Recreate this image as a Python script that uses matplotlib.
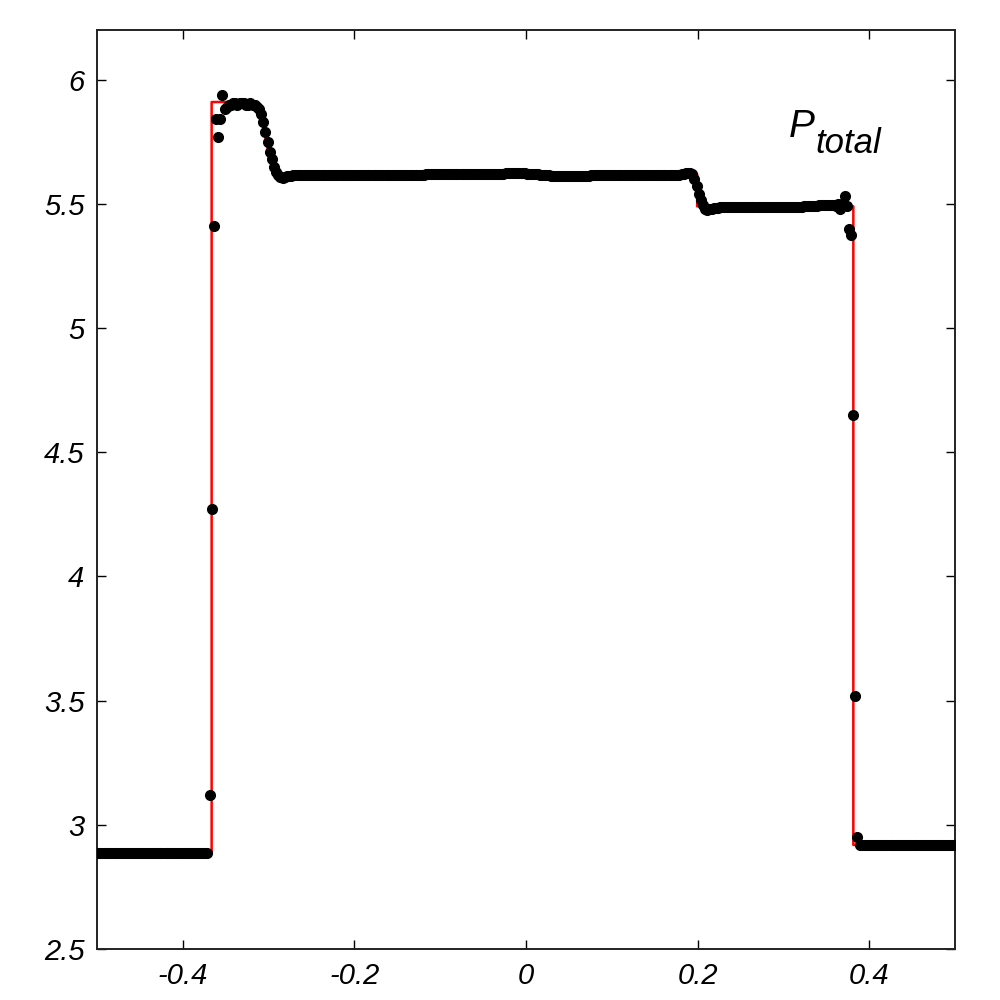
import numpy as np
import matplotlib
matplotlib.use("Agg")
import matplotlib.pyplot as plt
from matplotlib.ticker import FuncFormatter

plt.rcParams['font.family'] = ['Liberation Sans', 'DejaVu Sans']
plt.rcParams['font.style'] = 'italic'

# numerical solution, 400 cell centres on [-0.5, 0.5]
n_cells = 400
x_num = np.linspace(-0.49875, 0.49875, n_cells)

left_state = [
    2.887, 2.887, 2.887, 2.887, 2.887, 2.887, 2.887, 2.887, 2.887, 2.887, 2.887, 2.887, 2.887,
    2.887, 2.887, 2.887, 2.887, 2.887, 2.887, 2.887, 2.887, 2.887, 2.887, 2.887, 2.887, 2.887,
    2.887, 2.887, 2.887, 2.887, 2.887, 2.887, 2.887, 2.887, 2.887, 2.887, 2.887, 2.887, 2.887,
    2.887, 2.887, 2.887, 2.887, 2.887, 2.887, 2.887, 2.887, 2.887, 2.887, 2.887, 2.887, 2.887,
]
left_shock = [3.12, 4.27, 5.41, 5.84, 5.77, 5.84, 5.94, 5.88, 5.89, 5.90]
top_plateau = [5.90, 5.905, 5.905, 5.90, 5.905, 5.905, 5.905, 5.90, 5.90, 5.905, 5.90, 5.90]
rarefaction = [5.89, 5.88, 5.86, 5.83, 5.79, 5.75, 5.71, 5.68, 5.65, 5.63, 5.615, 5.607, 5.606, 5.61]
mid_plateau = [
    5.612, 5.613, 5.614, 5.615, 5.615, 5.616, 5.616, 5.617, 5.617, 5.617, 5.618, 5.618, 5.618, 5.617, 5.617, 5.618, 5.618, 5.618, 5.618, 5.618,
    5.618, 5.618, 5.617, 5.617, 5.617, 5.618, 5.618, 5.618, 5.618, 5.617, 5.617, 5.617, 5.617, 5.618, 5.618, 5.618, 5.618, 5.618, 5.617, 5.617,
    5.617, 5.617, 5.617, 5.617, 5.618, 5.618, 5.618, 5.618, 5.618, 5.618, 5.618, 5.618, 5.617, 5.617, 5.617, 5.617, 5.618, 5.618, 5.618, 5.618,
    5.618, 5.618, 5.618, 5.618, 5.618, 5.619, 5.619, 5.619, 5.619, 5.619, 5.619, 5.619, 5.619, 5.619, 5.620, 5.620, 5.620, 5.620, 5.620, 5.620,
    5.620, 5.620, 5.620, 5.620, 5.620, 5.621, 5.621, 5.621, 5.621, 5.621, 5.621, 5.621, 5.622, 5.622, 5.622, 5.622, 5.622, 5.622, 5.622, 5.622,
    5.622, 5.622, 5.623, 5.623, 5.623, 5.623, 5.623, 5.623, 5.623, 5.623, 5.623, 5.623, 5.622, 5.622, 5.622, 5.621, 5.620, 5.619, 5.618, 5.617,
    5.616, 5.615, 5.615, 5.614, 5.614, 5.614, 5.614, 5.614, 5.614, 5.614, 5.614, 5.614, 5.614, 5.614, 5.614, 5.614, 5.614, 5.614, 5.614, 5.614,
    5.614, 5.614, 5.615, 5.615, 5.615, 5.615, 5.615, 5.615, 5.616, 5.616, 5.616, 5.616, 5.616, 5.616, 5.616, 5.616, 5.616, 5.616, 5.616, 5.616,
    5.616, 5.616, 5.616, 5.616, 5.617, 5.617, 5.617, 5.617, 5.617, 5.617, 5.617, 5.617, 5.617, 5.617, 5.617, 5.617, 5.617, 5.616, 5.616, 5.616,
    5.616, 5.616, 5.617, 5.618, 5.619, 5.621, 5.623, 5.624,
]
contact = [5.625, 5.62, 5.60, 5.57, 5.54, 5.515, 5.495, 5.48, 5.477, 5.48]
low_plateau = [
    5.480, 5.482, 5.484, 5.485, 5.486, 5.486, 5.487, 5.487, 5.487, 5.488, 5.488, 5.488, 5.488, 5.488, 5.488, 5.488, 5.488, 5.488, 5.488, 5.488,
    5.488, 5.488, 5.488, 5.488, 5.488, 5.488, 5.487, 5.487, 5.487, 5.487, 5.487, 5.487, 5.488, 5.488, 5.488, 5.488, 5.488, 5.488, 5.489, 5.489,
    5.489, 5.489, 5.489, 5.490, 5.490, 5.490, 5.491, 5.491, 5.492, 5.493, 5.494, 5.495, 5.496, 5.497, 5.497, 5.496, 5.495,
]
right_shock = [5.495, 5.49, 5.50, 5.48, 5.50, 5.53, 5.49, 5.40, 5.375, 4.65, 3.52, 2.95]
right_state = [
    2.919, 2.919, 2.919, 2.919, 2.919, 2.919, 2.919, 2.919, 2.919, 2.919, 2.919, 2.919, 2.919, 2.919, 2.919,
    2.919, 2.919, 2.919, 2.919, 2.919, 2.919, 2.919, 2.919, 2.919, 2.919, 2.919, 2.919, 2.919, 2.919, 2.919,
    2.919, 2.919, 2.919, 2.919, 2.919, 2.919, 2.919, 2.919, 2.919, 2.919, 2.919, 2.919, 2.919, 2.919, 2.919,
]

p_num = np.array(left_state + left_shock + top_plateau + rarefaction + mid_plateau
                 + contact + low_plateau + right_shock + right_state)

# exact solution
x_exact = [-0.5, -0.3664, -0.3664, -0.3127, -0.308, -0.3034, -0.2987, -0.294,
           0.1995, 0.1995, 0.3815, 0.3815, 0.5]
p_exact = [2.887, 2.887, 5.91, 5.91, 5.84, 5.76, 5.68, 5.62,
           5.62, 5.49, 5.49, 2.919, 2.919]

fig = plt.figure(figsize=(10, 10), dpi=100)
ax = fig.add_axes([0.097, 0.051, 0.858, 0.919])

ax.plot(x_exact, p_exact, color='red', lw=1.8, zorder=2)
ax.plot(x_num[:len(p_num)], p_num, 'o', color='black', ms=7, mec='black', zorder=3)

ax.set_xlim(-0.5, 0.5)
ax.set_ylim(2.5, 6.2)
ax.set_xticks([-0.4, -0.2, 0, 0.2, 0.4])
ax.set_yticks([2.5, 3, 3.5, 4, 4.5, 5, 5.5, 6])
ax.xaxis.set_major_formatter(FuncFormatter(lambda v, p: '%g' % round(v, 3)))
ax.yaxis.set_major_formatter(FuncFormatter(lambda v, p: '%g' % round(v, 3)))
ax.tick_params(direction='in', length=6.5, width=1, labelsize=21, pad=9,
               top=True, right=True)
for s in ax.spines.values():
    s.set_linewidth(1.4)
    s.set_color('#222222')

ax.text(0.3058, 5.77, 'P', fontsize=28, ha='left', va='baseline')
ax.text(0.3375, 5.705, 'total', fontsize=25, ha='left', va='baseline')

fig.savefig('out.png', dpi=100)
